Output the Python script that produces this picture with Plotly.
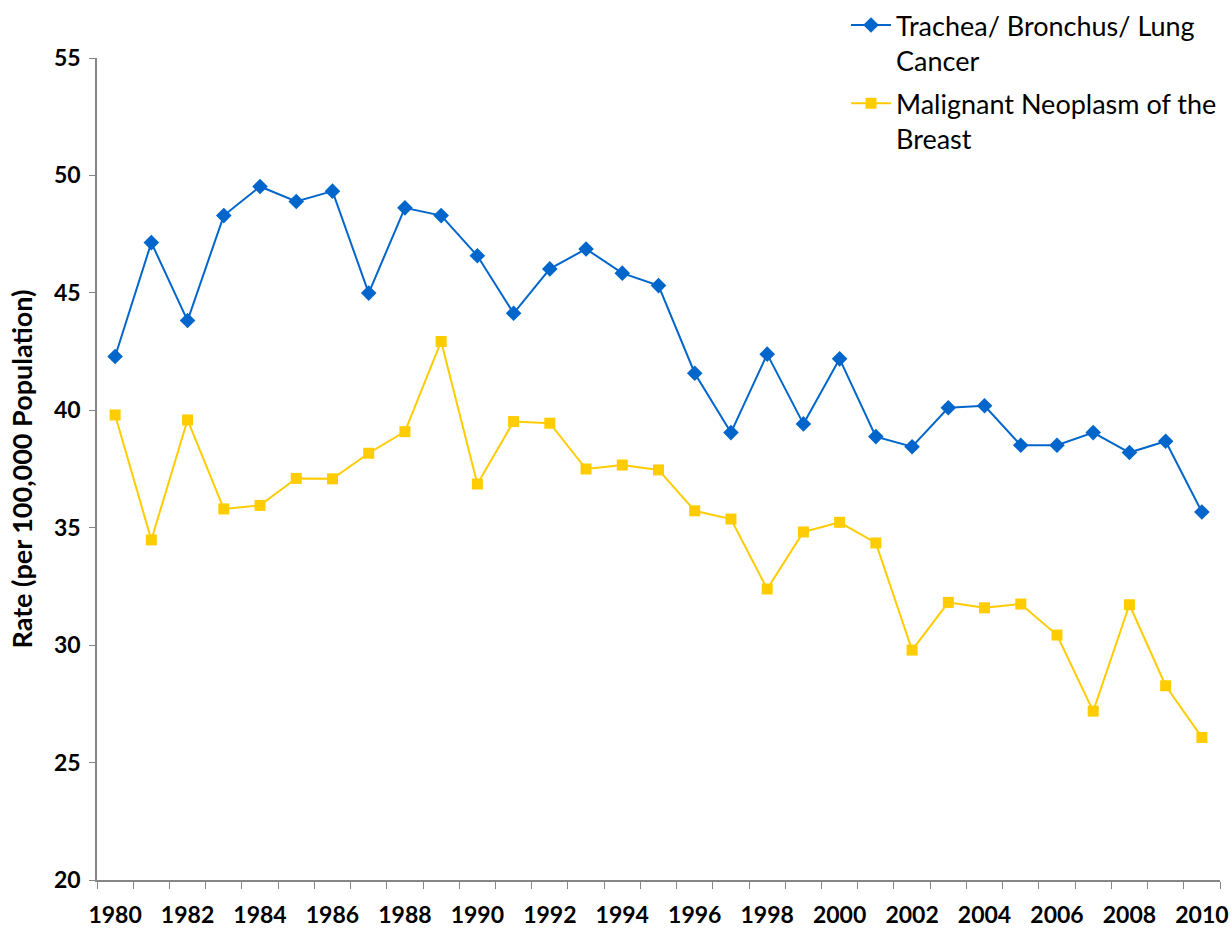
import plotly.graph_objects as go

years = list(range(1980, 2011))
lung = [42.29, 47.14, 43.82, 48.29, 49.53, 48.89, 49.33, 44.99, 48.62, 48.29,
        46.58, 44.13, 46.02, 46.87, 45.84, 45.31, 41.58, 39.05, 42.39, 39.42,
        42.19, 38.88, 38.45, 40.11, 40.19, 38.51, 38.51, 39.05, 38.20, 38.68, 35.67]
breast = [39.80, 34.48, 39.59, 35.80, 35.95, 37.10, 37.08, 38.17, 39.09, 42.93,
          36.86, 39.52, 39.45, 37.50, 37.67, 37.46, 35.72, 35.37, 32.39, 34.82,
          35.23, 34.35, 29.79, 31.82, 31.59, 31.75, 30.43, 27.19, 31.72, 28.27, 26.07]
series_names = ["Trachea/ Bronchus/ Lung<br>Cancer", "Malignant Neoplasm of the<br>Breast"]
x_ticks = list(range(1980, 2011, 2))
y_ticks = [20, 25, 30, 35, 40, 45, 50, 55]

fig = go.Figure()
fig.add_trace(go.Scatter(x=years, y=lung, mode="lines+markers", name=series_names[0],
                         legendgroup="a",
                         line=dict(color="#0066CC", width=2),
                         marker=dict(symbol="diamond", size=12, color="#0066CC")))
fig.add_trace(go.Scatter(x=years, y=breast, mode="lines+markers", name=series_names[1],
                         legendgroup="b",
                         line=dict(color="#FFCC00", width=2),
                         marker=dict(symbol="square", size=11, color="#FFCC00")))

PW = 1231 - 97 - 11
PH = 930 - 58 - 50
fig.update_layout(
    width=1231, height=930,
    margin=dict(l=97, r=11, t=58, b=50, autoexpand=False),
    paper_bgcolor="white", plot_bgcolor="white",
    font=dict(family="Lato", color="#000000"),
    showlegend=True,
    legend=dict(x=(846 - 97) / PW, xanchor="left", y=1 + 57 / PH, yanchor="top",
                font=dict(family="Lato", size=27, color="#000000"),
                bgcolor="rgba(0,0,0,0)", valign="top", tracegroupgap=5,
                itemwidth=40),
    xaxis=dict(range=[1979.5, 2010.5], tickmode="array", tickvals=x_ticks,
               ticktext=[str(v) for v in x_ticks], automargin=False,
               tickfont=dict(family="Lato", size=23, color="#000000", weight="bold"),
               ticks="outside", ticklen=0, ticklabelstandoff=14,
               showline=True, linecolor="#868686", linewidth=1.5, showgrid=False, zeroline=False,
               minor=dict(tickmode="linear", tick0=1979.5, dtick=1, ticks="outside",
                          ticklen=7, tickcolor="#868686", showgrid=False)),
    yaxis=dict(range=[20, 55], tickmode="array", tickvals=y_ticks, automargin=False,
               tickfont=dict(family="Lato", size=23, color="#000000", weight="bold"),
               ticks="outside", ticklen=6, tickcolor="#868686", ticklabelstandoff=4,
               showline=True, linecolor="#868686", linewidth=1.5, showgrid=False, zeroline=False,
               title=dict(text="Rate (per 100,000 Population)", standoff=14,
                          font=dict(family="Lato", size=27, color="#000000", weight="bold"))),
)
fig.write_html("out.html", config={"displayModeBar": False},
               post_script="document.body.style.margin='0';document.body.style.overflow='hidden';")
